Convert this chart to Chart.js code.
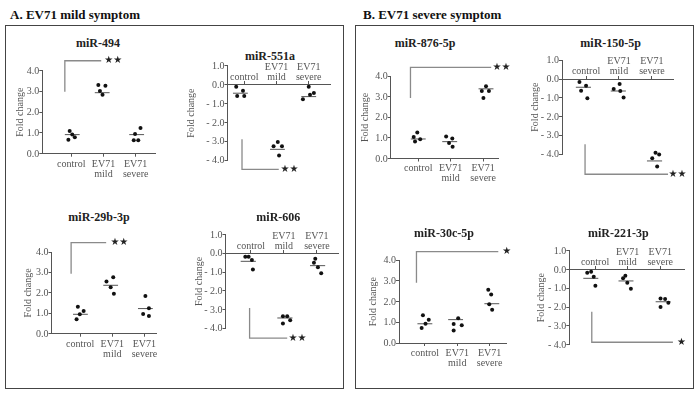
<!DOCTYPE html>
<html>
<head>
<meta charset="utf-8">
<script src="https://cdn.jsdelivr.net/npm/chart.js@4.4.1/dist/chart.umd.min.js"></script>
<style>
  body { margin: 0; background: #fff; font-family: 'Liberation Serif', serif; }
  #page { position: relative; width: 700px; height: 403px; overflow: hidden; }
  .panel { position: absolute; border: 1.5px solid #444; box-sizing: border-box; }
  .head { position: absolute; font-weight: bold; font-size: 13px; color: #111; line-height: 1; transform: translateY(-50%); white-space: nowrap; }
  .ptitle { position: absolute; font-weight: bold; font-size: 12px; color: #222; line-height: 1; transform: translate(-50%, -50%); white-space: nowrap; }
  .ylab { position: absolute; font-size: 10px; color: #555; line-height: 10px; transform: translate(-100%, -50%); white-space: nowrap; }
  canvas { position: absolute; }
</style>
</head>
<body>
<div id="page">
  <div class="head" style="left:10px; top:14px;">A. EV71 mild symptom</div>
  <div class="head" style="left:363px; top:14px;">B. EV71 severe symptom</div>
  <div class="panel" style="left:5px; top:25px; width:339px; height:364px;"></div>
  <div class="panel" style="left:355px; top:25px; width:339px; height:364px;"></div>
</div>
<script>
// groups on the x axis
const categories = ['control', ['EV71', 'mild'], ['EV71', 'severe']];
const categoryTicks = [0, 1, 2];

// y ticks, up-regulated and down-regulated plots
const yTicksUp = [0, 1, 2, 3, 4];
const yTicksDown = [-4, -3, -2, -1, 0, 1];

// miR-494
const mir494Values = [[1.09, 0.93, 0.67, 0.79], [3.31, 3.28, 3.02, 2.84], [1.24, 0.95, 0.65, 0.65]];
const mir494Jitter = [[-0.05, 0.03, -0.09, 0.11], [-0.16, 0.06, -0.11, -0.03], [0.15, -0.02, -0.06, 0.08]];
const mir494Means = [0.92, 2.94, 0.92];
const mir494MeanShift = [0.03, -0.04, 0.03];
const mir494Bracket = [-0.2, 2.99, 4.48, 0.93, 1.3];

// miR-551a
const mir551aValues = [[-0.11, -0.32, -0.6, -0.6], [-3.03, -3.26, -3.26, -3.74], [-0.11, -0.44, -0.53, -0.77]];
const mir551aJitter = [[-0.25, -0.04, -0.22, 0.0], [0.04, -0.09, 0.17, 0.08], [0, 0.16, 0.04, -0.18]];
const mir551aMeans = [-0.45, -3.42, -0.63];
const mir551aMeanShift = [-0.12, 0.03, 0];
const mir551aBracket = [-0.07, -2.89, -4.48, 1.07, 1.4];

// miR-29b-3p
const mir29bValues = [[1.32, 1.11, 0.95, 0.71], [2.55, 2.76, 2.27, 1.95], [1.85, 1.25, 0.97, 0.87]];
const mir29bJitter = [[-0.07, 0.11, -0.01, -0.11], [-0.18, 0.03, -0.05, 0.05], [0.03, 0.14, -0.04, 0.14]];
const mir29bMeans = [0.95, 2.37, 1.23];
const mir29bMeanShift = [0.01, -0.05, 0.03];
const mir29bBracket = [-0.28, 2.94, 4.46, 0.81, 1.22];

// miR-606
const mir606Values = [[-0.18, -0.18, -0.36, -0.87], [-3.36, -3.36, -3.57, -3.75], [-0.29, -0.5, -0.75, -1.07]];
const mir606Jitter = [[-0.17, -0.07, 0.03, 0.06], [-0.03, 0.1, 0.19, -0.03], [-0.05, -0.09, 0.03, 0.13]];
const mir606Means = [-0.43, -3.45, -0.66];
const mir606MeanShift = [-0.08, 0.03, 0.02];
const mir606Bracket = [-0.04, -2.92, -4.52, 1.1, 1.41];

// miR-876-5p
const mir876Values = [[1.26, 1.05, 0.94, 0.83], [1.07, 0.97, 0.76, 0.57], [3.52, 3.28, 3.28, 2.94]];
const mir876Jitter = [[-0.03, -0.14, 0.06, -0.1], [-0.14, 0.05, -0.05, 0.06], [0.09, -0.04, 0.18, 0.01]];
const mir876Means = [0.95, 0.82, 3.39];
const mir876MeanShift = [0, -0.03, 0.09];
const mir876Bracket = [-0.24, 2.94, 4.43, 2.25, 2.57];

// miR-150-5p
const mir150Values = [[-0.16, -0.36, -0.62, -1.03], [-0.27, -0.53, -0.64, -0.98], [-3.93, -4.02, -4.23, -4.66]];
const mir150Jitter = [[-0.2, 0, -0.15, 0.04], [0.02, -0.16, 0.04, 0.14], [0.11, 0.22, 0.01, 0.16]];
const mir150Means = [-0.44, -0.64, -4.37];
const mir150MeanShift = [-0.08, -0.02, 0.08];
const mir150Bracket = [-0.03, -3.48, -5.08, 2.49, 2.78];

// miR-30c-5p
const mir30cValues = [[1.34, 1.13, 0.93, 0.73], [1.2, 0.92, 0.86, 0.61], [2.58, 2.34, 1.87, 1.61]];
const mir30cJitter = [[-0.06, 0.12, 0.02, -0.1], [0.03, -0.11, 0.14, -0.11], [-0.04, 0.05, -0.01, 0.08]];
const mir30cMeans = [0.93, 1.13, 1.9];
const mir30cMeanShift = [0, -0.05, 0.07];
const mir30cBracket = [-0.26, 2.92, 4.42, 2.27, 2.53];

// miR-221-3p
const mir221Values = [[-0.17, -0.12, -0.39, -0.86], [-0.33, -0.47, -0.7, -1.02], [-1.54, -1.57, -1.77, -2.0]];
const mir221Jitter = [[-0.24, -0.12, -0.04, 0.01], [-0.07, -0.14, -0.01, 0.1], [0.01, 0.15, 0.25, 0.01]];
const mir221Means = [-0.47, -0.61, -1.72];
const mir221MeanShift = [-0.13, -0.05, 0.09];
const mir221Bracket = [-0.1, -2.25, -3.88, 2.39, 2.65];

// layout of each small plot on the page: chart area [left, top, right, bottom]
const plots = [
  { title: 'miR-494', tx: 98, ty: 43, area: [42.3, 70.7, 155, 153.7], x: [-0.9, 2.6], yTicks: yTicksUp, wy: 28.3,
    values: mir494Values, jitter: mir494Jitter, means: mir494Means, shift: mir494MeanShift, bracket: mir494Bracket, stars: '★★' },
  { title: 'miR-551a', tx: 270, ty: 56, area: [227.5, 65.8, 330, 160.3], x: [-0.52, 2.66], yTicks: yTicksDown, wy: 41.8,
    values: mir551aValues, jitter: mir551aJitter, means: mir551aMeans, shift: mir551aMeanShift, bracket: mir551aBracket, stars: '★★' },
  { title: 'miR-29b-3p', tx: 99, ty: 216.7, area: [51.5, 252, 156, 333.7], x: [-0.89, 2.36], yTicks: yTicksUp, wy: 29.2,
    values: mir29bValues, jitter: mir29bJitter, means: mir29bMeans, shift: mir29bMeanShift, bracket: mir29bBracket, stars: '★★' },
  { title: 'miR-606', tx: 278.3, ty: 216.7, area: [225.5, 234.5, 338.7, 328.3], x: [-0.77, 2.66], yTicks: yTicksDown, wy: 32.5,
    values: mir606Values, jitter: mir606Jitter, means: mir606Means, shift: mir606MeanShift, bracket: mir606Bracket, stars: '★★' },
  { title: 'miR-876-5p', tx: 425, ty: 43.3, area: [390.7, 76.3, 498, 158.5], x: [-0.85, 2.46], yTicks: yTicksUp, wy: 31.7,
    values: mir876Values, jitter: mir876Jitter, means: mir876Means, shift: mir876MeanShift, bracket: mir876Bracket, stars: '★★' },
  { title: 'miR-150-5p', tx: 610.7, ty: 43.3, area: [562, 60.25, 673.3, 154], x: [-0.73, 2.65], yTicks: yTicksDown, wy: 33,
    values: mir150Values, jitter: mir150Jitter, means: mir150Means, shift: mir150MeanShift, bracket: mir150Bracket, stars: '★★' },
  { title: 'miR-30c-5p', tx: 444, ty: 233.3, area: [399, 260.3, 506.7, 343], x: [-0.8, 2.53], yTicks: yTicksUp, wy: 31.7,
    values: mir30cValues, jitter: mir30cJitter, means: mir30cMeans, shift: mir30cMeanShift, bracket: mir30cBracket, stars: '★' },
  { title: 'miR-221-3p', tx: 618.3, ty: 233.3, area: [569.3, 250.75, 684, 344.5], x: [-0.79, 2.73], yTicks: yTicksDown, wy: 33.6,
    values: mir221Values, jitter: mir221Jitter, means: mir221Means, shift: mir221MeanShift, bracket: mir221Bracket, stars: '★' }
];

const SERIF = "'Liberation Serif', 'Times New Roman', serif";
const AXIS = '#555';
const X_AXIS_H = 28;

const fmtY = v => v < 0 ? '- ' + Math.abs(v).toFixed(1) : v.toFixed(1);

// points are only drawn inside chartArea, so widen it while datasets draw
// (a few dots sit below the last tick, as in the original figure)
const looseArea = {
  id: 'looseArea',
  beforeDatasetsDraw(chart) {
    const a = chart.chartArea;
    chart._realArea = a;
    chart.chartArea = { left: a.left - 20, top: a.top - 20, right: a.right + 20, bottom: a.bottom + 20,
      width: a.width + 40, height: a.height + 40 };
  },
  afterDatasetsDraw(chart) {
    if (chart._realArea) chart.chartArea = chart._realArea;
  }
};

// stars next to the significance bracket
const starPlugin = {
  id: 'stars',
  afterDatasetsDraw(chart, args, opts) {
    const b = opts.bracket;
    const ctx = chart.ctx;
    ctx.save();
    ctx.fillStyle = '#222';
    ctx.font = "10px 'DejaVu Sans'";
    ctx.textAlign = 'center';
    ctx.textBaseline = 'middle';
    ctx.fillText(opts.text, chart.scales.x.getPixelForValue(b[4]), chart.scales.y.getPixelForValue(b[2]));
    ctx.restore();
  }
};

const page = document.getElementById('page');

plots.forEach(p => {
  const [L, T, R, B] = p.area;
  const positive = p.yTicks[0] >= 0;

  // title
  const t = document.createElement('div');
  t.className = 'ptitle';
  t.style.left = p.tx + 'px';
  t.style.top = p.ty + 'px';
  t.textContent = p.title;
  page.appendChild(t);

  // canvas placed so that the chart area lands on the reference
  const cl = Math.floor(L - p.wy - 4);
  const ct = Math.floor(T - 32);
  const cw = Math.ceil(R + 28) - cl;
  const ch = Math.ceil(B + 36) - ct;
  const canvas = document.createElement('canvas');
  canvas.width = cw;
  canvas.height = ch;
  canvas.style.left = cl + 'px';
  canvas.style.top = ct + 'px';
  page.appendChild(canvas);

  const points = [];
  p.values.forEach((group, i) => {
    group.forEach((v, j) => points.push({ x: i + p.jitter[i][j], y: v }));
  });

  const datasets = [{
    data: points,
    pointRadius: 2,
    pointBackgroundColor: '#111',
    pointBorderWidth: 0,
    showLine: false,
    clip: false
  }];
  p.means.forEach((m, i) => {
    datasets.push({
      data: [{ x: i + p.shift[i] - 0.23, y: m }, { x: i + p.shift[i] + 0.23, y: m }],
      showLine: true, pointRadius: 0, borderColor: '#555', borderWidth: 1, clip: false
    });
  });
  const b = p.bracket;
  datasets.push({
    data: [{ x: b[0], y: b[1] }, { x: b[0], y: b[2] }, { x: b[3], y: b[2] }],
    showLine: true, pointRadius: 0, borderColor: '#8a8a8a', borderWidth: 1.3, clip: false
  });

  const chart = new Chart(canvas, {
    type: 'scatter',
    data: { datasets },
    plugins: [looseArea, starPlugin],
    options: {
      responsive: false,
      animation: false,
      events: [],
      layout: {
        padding: {
          left: L - p.wy - cl,
          top: T - ct,
          right: cl + cw - R,
          bottom: (ct + ch - B) - (positive ? X_AXIS_H : 0)
        }
      },
      plugins: {
        legend: { display: false },
        tooltip: { enabled: false },
        stars: { bracket: b, text: p.stars }
      },
      scales: {
        x: {
          type: 'linear',
          position: positive ? 'bottom' : { y: 0 },
          min: p.x[0],
          max: p.x[1],
          afterBuildTicks: scale => { scale.ticks = categoryTicks.map(v => ({ value: v })); },
          afterFit: scale => { if (positive) scale.height = X_AXIS_H; },
          border: { display: true, color: AXIS, width: 1 },
          grid: { drawOnChartArea: false, drawTicks: true, tickLength: positive ? 3 : -4, color: AXIS },
          ticks: {
            autoSkip: false,
            maxRotation: 0,
            crossAlign: positive ? 'near' : 'far',
            padding: positive ? 2.3 : -13.2,
            color: AXIS,
            font: { family: SERIF, size: 10, lineHeight: 1 },
            callback: v => categories[v]
          }
        },
        y: {
          min: p.yTicks[0],
          max: p.yTicks[p.yTicks.length - 1],
          afterBuildTicks: scale => { scale.ticks = p.yTicks.map(v => ({ value: v })); },
          afterFit: scale => { scale.width = p.wy; },
          border: { display: true, color: AXIS, width: 1 },
          grid: { drawOnChartArea: false, drawTicks: true, tickLength: 3, color: AXIS },
          ticks: { display: false, autoSkip: false },
          title: {
            display: true,
            text: 'Fold change',
            color: AXIS,
            padding: 0,
            font: { family: SERIF, size: 10, lineHeight: 1.2 }
          }
        }
      }
    }
  });

  // y tick labels as page text, placed from the chart's own y scale
  const ys = chart.scales.y;
  p.yTicks.forEach(v => {
    const d = document.createElement('div');
    d.className = 'ylab';
    d.style.left = (cl + ys.right - 3) + 'px';
    d.style.top = (ct + ys.getPixelForValue(v)) + 'px';
    d.textContent = fmtY(v);
    page.appendChild(d);
  });
});
</script>
</body>
</html>
